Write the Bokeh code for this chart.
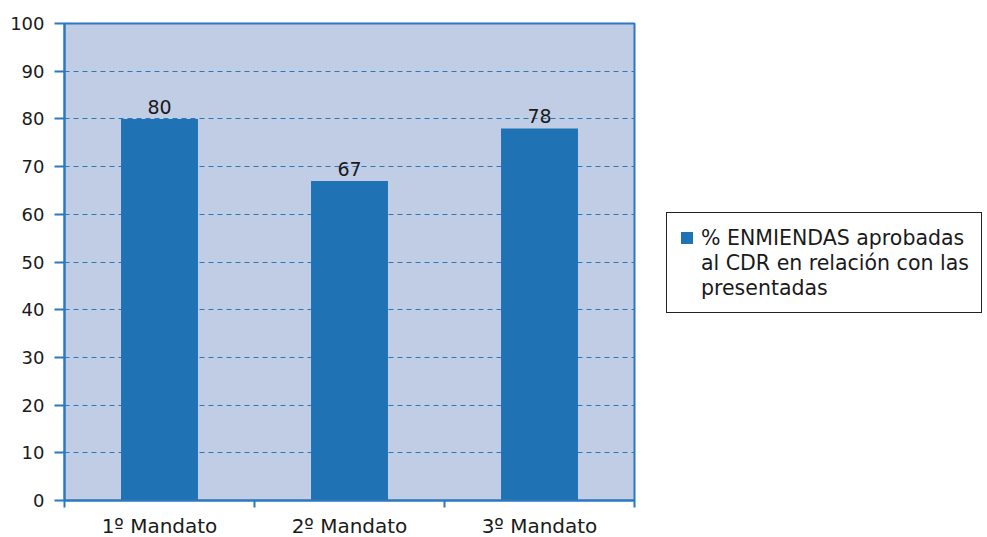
from bokeh.plotting import figure
from bokeh.models import ColumnDataSource, FixedTicker, Range1d, Legend, LegendItem
from bokeh.core.properties import value
from bokeh.embed import file_html
from bokeh.resources import INLINE

categories = ["1º Mandato", "2º Mandato", "3º Mandato"]
values = [80, 67, 78]
y_ticks = [0, 10, 20, 30, 40, 50, 60, 70, 80, 90, 100]
series_lines = ["% ENMIENDAS aprobadas", "al CDR en relación con las", "presentadas"]

FONT = "DejaVu Sans"
BLUE = "#1f72b4"
LINE = "#2a78c0"
BG = "#c1cde4"

x = [i + 0.5 for i in range(len(categories))]
src = ColumnDataSource(dict(x=x, top=values, label=[str(v) for v in values]))

p = figure(width=987, height=537, output_backend="svg", toolbar_location=None,
           x_range=Range1d(0, 3), y_range=Range1d(0, 100),
           frame_width=570, frame_height=477,
           min_border_left=64, min_border_top=23, min_border_bottom=37, min_border_right=353)
p.background_fill_color = BG
p.border_fill_color = "white"
p.outline_line_color = LINE
p.outline_line_width = 2

r = p.vbar(x="x", top="top", width=0.405, bottom=0, source=src, fill_color=BLUE, line_color=None)
blank = p.vbar(x=[], top=[], width=0.4, fill_alpha=0, line_alpha=0)
p.text(x="x", y="top", text="label", source=src, text_align="center", text_baseline="bottom",
       y_offset=-5, text_font=value(FONT), text_font_size="19px", text_color="#1a1a1a")

p.xgrid.visible = False
p.ygrid.ticker = FixedTicker(ticks=y_ticks[1:-1])
p.ygrid.grid_line_color = LINE
p.ygrid.grid_line_dash = "5 4"
p.ygrid.grid_line_width = 1

p.yaxis.ticker = FixedTicker(ticks=y_ticks)
p.yaxis.axis_line_color = LINE
p.yaxis.axis_line_width = 2
p.yaxis.major_tick_line_color = LINE
p.yaxis.major_tick_line_width = 2
p.yaxis.major_tick_out = 10
p.yaxis.major_tick_in = 0
p.yaxis.minor_tick_line_color = None
p.yaxis.major_label_standoff = 10
p.yaxis.major_label_text_font = FONT
p.yaxis.major_label_text_font_size = "18px"
p.yaxis.major_label_text_color = "#1a1a1a"

p.xaxis.ticker = FixedTicker(ticks=x, minor_ticks=[0, 1, 2, 3])
p.xaxis.major_label_overrides = {xi: c for xi, c in zip(x, categories)}
p.xaxis.axis_line_color = LINE
p.xaxis.axis_line_width = 2
p.xaxis.major_tick_line_color = None
p.xaxis.major_tick_out = 0
p.xaxis.major_tick_in = 0
p.xaxis.minor_tick_line_color = LINE
p.xaxis.minor_tick_line_width = 2
p.xaxis.minor_tick_out = 7
p.xaxis.minor_tick_in = 0
p.xaxis.major_label_standoff = 6
p.xaxis.major_label_text_font = FONT
p.xaxis.major_label_text_font_size = "20px"
p.xaxis.major_label_text_color = "#1a1a1a"

items = [LegendItem(label=series_lines[0], renderers=[r])]
items += [LegendItem(label=t, renderers=[blank]) for t in series_lines[1:]]
legend = Legend(items=items,
                location=(32, 187), orientation="vertical",
                border_line_color="#222222", border_line_width=1, border_line_alpha=1,
                background_fill_color="white", background_fill_alpha=1,
                label_text_font=FONT, label_text_font_size="20.5px",
                label_text_color="#1a1a1a", label_height=25, spacing=0,
                glyph_width=15, glyph_height=15, padding=12, margin=0,
                label_standoff=7)
p.add_layout(legend, "right")

open("out.html", "w").write(file_html(p, INLINE))
